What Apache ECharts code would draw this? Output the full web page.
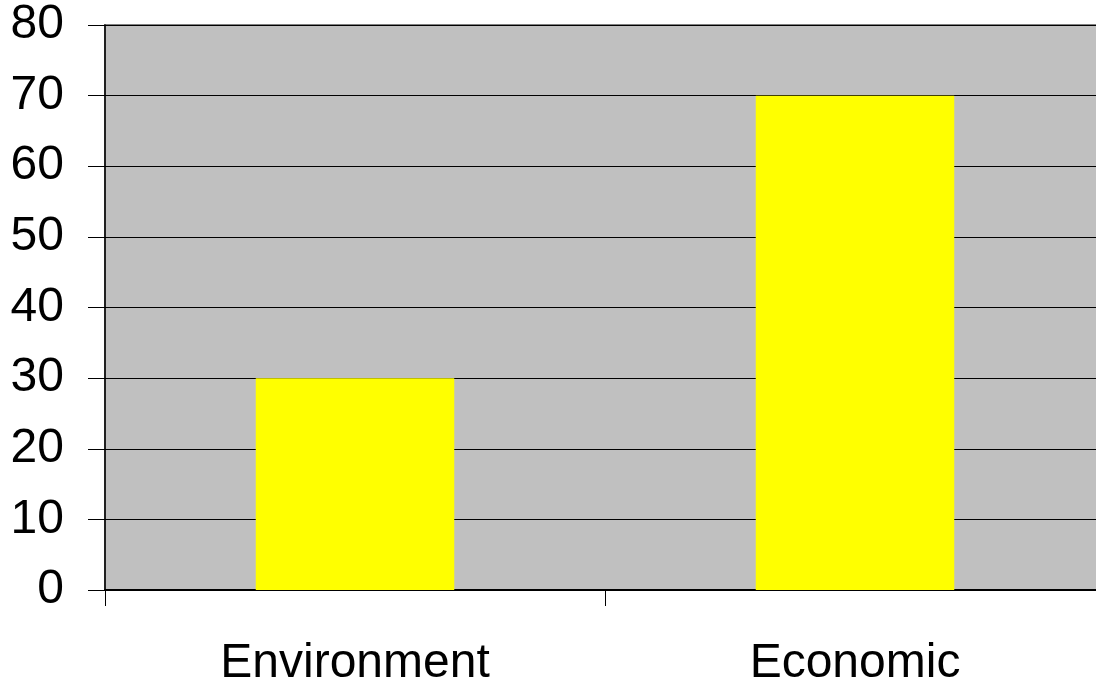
<!DOCTYPE html>
<html>
<head>
<meta charset="utf-8">
<script src="https://cdn.jsdelivr.net/npm/echarts@6/dist/echarts.min.js"></script>
<style>
  html, body { margin: 0; padding: 0; background: #ffffff; }
  #chart { width: 1096px; height: 684px; }
</style>
</head>
<body>
<div id="chart"></div>
<script>
// Category names along the x axis
const categories = ['Environment', 'Economic'];
// Bar heights for each category
const values = [30, 70];
// Y axis range and step
const yMin = 0;
const yMax = 80;
const yStep = 10;

const chart = echarts.init(document.getElementById('chart'), null, { renderer: 'canvas' });

chart.setOption({
  animation: false,
  backgroundColor: '#ffffff',
  textStyle: { fontFamily: 'Liberation Sans, Arial, sans-serif' },
  grid: {
    left: 105,
    top: 25,
    right: -9,
    bottom: 94,
    outerBoundsMode: 'none',
    containLabel: false,
    show: true,
    backgroundColor: '#c0c0c0',
    borderColor: '#808080',
    borderWidth: 2
  },
  xAxis: {
    type: 'category',
    data: categories,
    axisLine: { show: true, lineStyle: { color: '#000000', width: 2 } },
    axisTick: { show: true, length: 16, alignWithLabel: false, lineStyle: { color: '#000000', width: 1 } },
    axisLabel: {
      color: '#000000',
      fontSize: 48,
      fontFamily: 'Liberation Sans, Arial, sans-serif',
      margin: 50
    },
    splitLine: { show: false }
  },
  yAxis: {
    type: 'value',
    min: yMin,
    max: yMax,
    interval: yStep,
    axisLine: { show: true, lineStyle: { color: '#000000', width: 1.5 } },
    axisTick: { show: true, length: 17, lineStyle: { color: '#000000', width: 1 } },
    axisLabel: {
      color: '#000000',
      fontSize: 48,
      fontFamily: 'Liberation Sans, Arial, sans-serif',
      margin: 41,
      padding: [5, 0, 0, 0]
    },
    splitLine: { show: true, lineStyle: { color: '#000000', width: 1 } }
  },
  series: [{
    type: 'bar',
    data: values,
    barWidth: '39.7%',
    itemStyle: { color: '#ffff00' }
  }]
});
</script>
</body>
</html>
